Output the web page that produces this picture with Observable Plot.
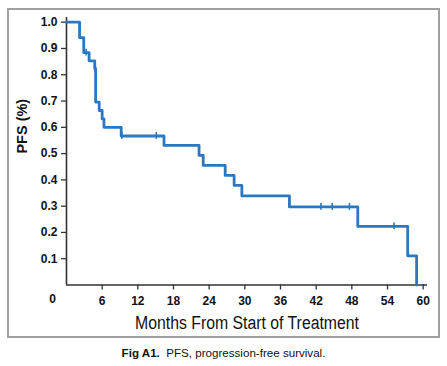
<!DOCTYPE html>
<html><head><meta charset="utf-8">
<script src="https://cdn.jsdelivr.net/npm/d3@7"></script>
<script src="https://cdn.jsdelivr.net/npm/@observablehq/plot@0.6"></script>
<style>
body{margin:0;background:#fff;}
#wrap{position:relative;width:447px;height:366px;}
#frame{position:absolute;left:7px;top:8px;width:429px;height:326px;border:2px solid #a0a0a0;}
#chart{position:absolute;left:0;top:0;}
#cap{position:absolute;left:0;top:346px;width:447px;text-align:center;font:11.6px "Liberation Sans",Arial,sans-serif;color:#111;}
</style></head><body>
<div id="wrap"><div id="frame"></div><div id="chart"></div><div id="cap"><b>Fig A1.</b>&nbsp; PFS, progression-free survival.</div></div>
<script>
const stepMonths = [0, 2.2, 2.9, 3.8, 4.75, 4.9, 5.5, 6.0, 6.3, 9.2, 16.4, 22.3, 23.0, 26.7, 28.2, 29.5, 37.5, 49.0, 57.4, 58.9];
const stepPFS    = [1.0, 0.941, 0.884, 0.853, 0.824, 0.696, 0.664, 0.632, 0.600, 0.567, 0.531, 0.493, 0.455, 0.417, 0.379, 0.339, 0.297, 0.223, 0.111, 0.0];
const censorMonths = [3.3, 4.75, 9.3, 15.1, 42.8, 44.7, 47.6, 55.1];
const censorPFS    = [0.884, 0.824, 0.567, 0.567, 0.297, 0.297, 0.297, 0.223];
const xTicks = [6, 12, 18, 24, 30, 36, 42, 48, 54, 60];
const yTicks = [0.1, 0.2, 0.3, 0.4, 0.5, 0.6, 0.7, 0.8, 0.9, 1.0];
const xLabel = "Months From Start of Treatment";
const yLabel = "PFS (%)";

const steps = stepMonths.map((m, i) => ({m, s: stepPFS[i]}));
const censors = censorMonths.map((m, i) => ({m, s: censorPFS[i]}));

const blue = "#2a78c2";
const axisCol = "#333";
const font = "'Liberation Sans',Arial,sans-serif";

const chart = Plot.plot({
  width: 447, height: 340,
  marginLeft: 66, marginRight: 20, marginTop: 21.7, marginBottom: 55.5,
  style: {fontFamily: font, background: "transparent", color: "#111"},
  x: {domain: [0, 60.73]},
  y: {domain: [0, 1]},
  marks: [
    Plot.ruleY([0], {stroke: axisCol, strokeWidth: 1.6}),
    Plot.ruleX([0], {y1: 0, y2: 1.018, stroke: axisCol, strokeWidth: 1.6}),
    Plot.axisY({ticks: yTicks, tickFormat: d3.format(".1f"), tickSize: 5, tickPadding: 4, fontSize: 12, fontWeight: "bold", stroke: axisCol, strokeWidth: 1.3, label: null}),
    Plot.axisX({ticks: xTicks, tickFormat: d3.format("d"), tickSize: 5, tickPadding: 6, fontSize: 12, fontWeight: "bold", stroke: axisCol, strokeWidth: 1.3, label: null}),
    Plot.text([0], {x: d => d, frameAnchor: "bottom", dx: -14, dy: 18, text: d => String(d), fontSize: 12, fontWeight: "bold"}),
    Plot.line(steps, {x: "m", y: "s", curve: "step-after", stroke: blue, strokeWidth: 2.8}),
    Plot.ruleX(censors, {x: "m", y1: d => d.s - 0.013, y2: d => d.s + 0.013, stroke: blue, strokeWidth: 1.6}),
    Plot.text([xLabel], {frameAnchor: "bottom", dy: 38.5, fontSize: 18, lineAnchor: "middle", className: "xlab"}),
    Plot.text([yLabel], {frameAnchor: "left", dx: -44, rotate: -90, fontSize: 14.5, fontWeight: "bold", lineAnchor: "middle"})
  ]
});
d3.select(chart).selectAll("g.xlab text").attr("textLength", 224).attr("lengthAdjust", "spacingAndGlyphs");
document.getElementById("chart").appendChild(chart);
</script>
</body></html>
